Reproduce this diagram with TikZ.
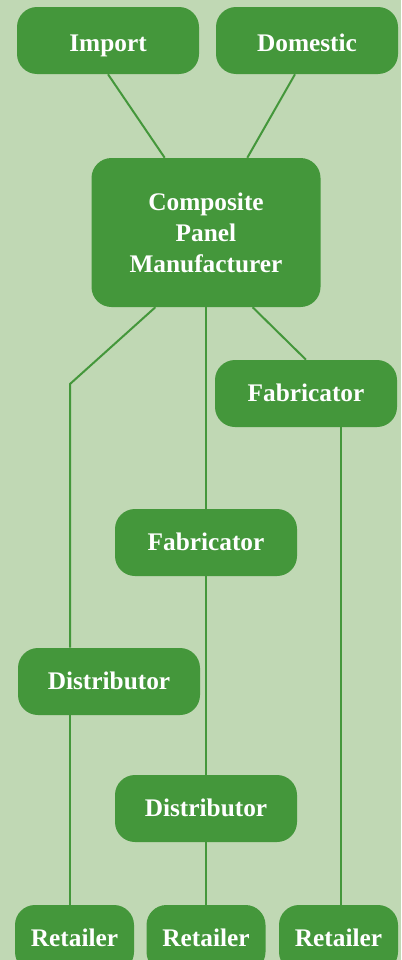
\documentclass[tikz,border=0pt]{standalone}
\usepackage{fontspec}
\setmainfont{Liberation Serif}
\usetikzlibrary{positioning}
\definecolor{bgGreen}{HTML}{C0D8B4}
\definecolor{boxGreen}{HTML}{44973B}
\begin{document}
\begin{tikzpicture}[x=0.75pt,y=-0.75pt]
\tikzstyle{box}=[rectangle,rounded corners=15pt,fill=boxGreen,text=white,align=center,font=\bfseries\fontsize{19}{23.25}\selectfont,minimum width=136.5pt,minimum height=50.25pt,inner sep=0pt]
\tikzstyle{single}=[box,text height=12.6pt,text depth=0pt]
\tikzstyle{source}=[single,text height=17pt]
\tikzstyle{small}=[single,minimum width=89.25pt]
\tikzstyle{link}=[draw=boxGreen,line width=1.5pt]
\clip (0,0) rectangle (401,960);
\fill [bgGreen] (0,0) rectangle (401,960);
\node (imp) [source] at (108,40.5) {Import};
\node (dom) [source] at (307,40.5) {Domestic};
\node (comp) [box,minimum width=171.75pt,minimum height=111.75pt] at (206,232.5) {Composite\\Panel\\Manufacturer};
\node (fab1) [single] at (306,393.5) {Fabricator};
\node (fab2) [single] at (206,542.5) {Fabricator};
\node (dist1) [single] at (109,681.5) {Distributor};
\node (dist2) [single] at (206,808.5) {Distributor};
\node (ret1) [small] at (74.5,938.5) {Retailer};
\node (ret2) [small] at (206,938.5) {Retailer};
\node (ret3) [small] at (338.5,938.5) {Retailer};
\coordinate (bend) at (70,384);
\coordinate (down) at (341,427);
% supply side
\draw [link] (imp.south) -- ([xshift=-31pt]comp.north);
\draw [link] ([xshift=-9pt]dom.south) -- ([xshift=31pt]comp.north);
% channels
\draw [link] ([xshift=-38pt]comp.south) -- (bend) -- (bend |- dist1.north);
\draw [link] (comp.south) -- (fab2.north);
\draw [link] ([xshift=35pt]comp.south) -- (fab1.north);
\draw [link] (fab1.south -| down) -- (down |- ret3.north);
\draw [link] (fab2.south) -- (dist2.north);
\draw [link] (dist1.south -| bend) -- (bend |- ret1.north);
\draw [link] (dist2.south) -- (ret2.north);
\end{tikzpicture}
\end{document}
